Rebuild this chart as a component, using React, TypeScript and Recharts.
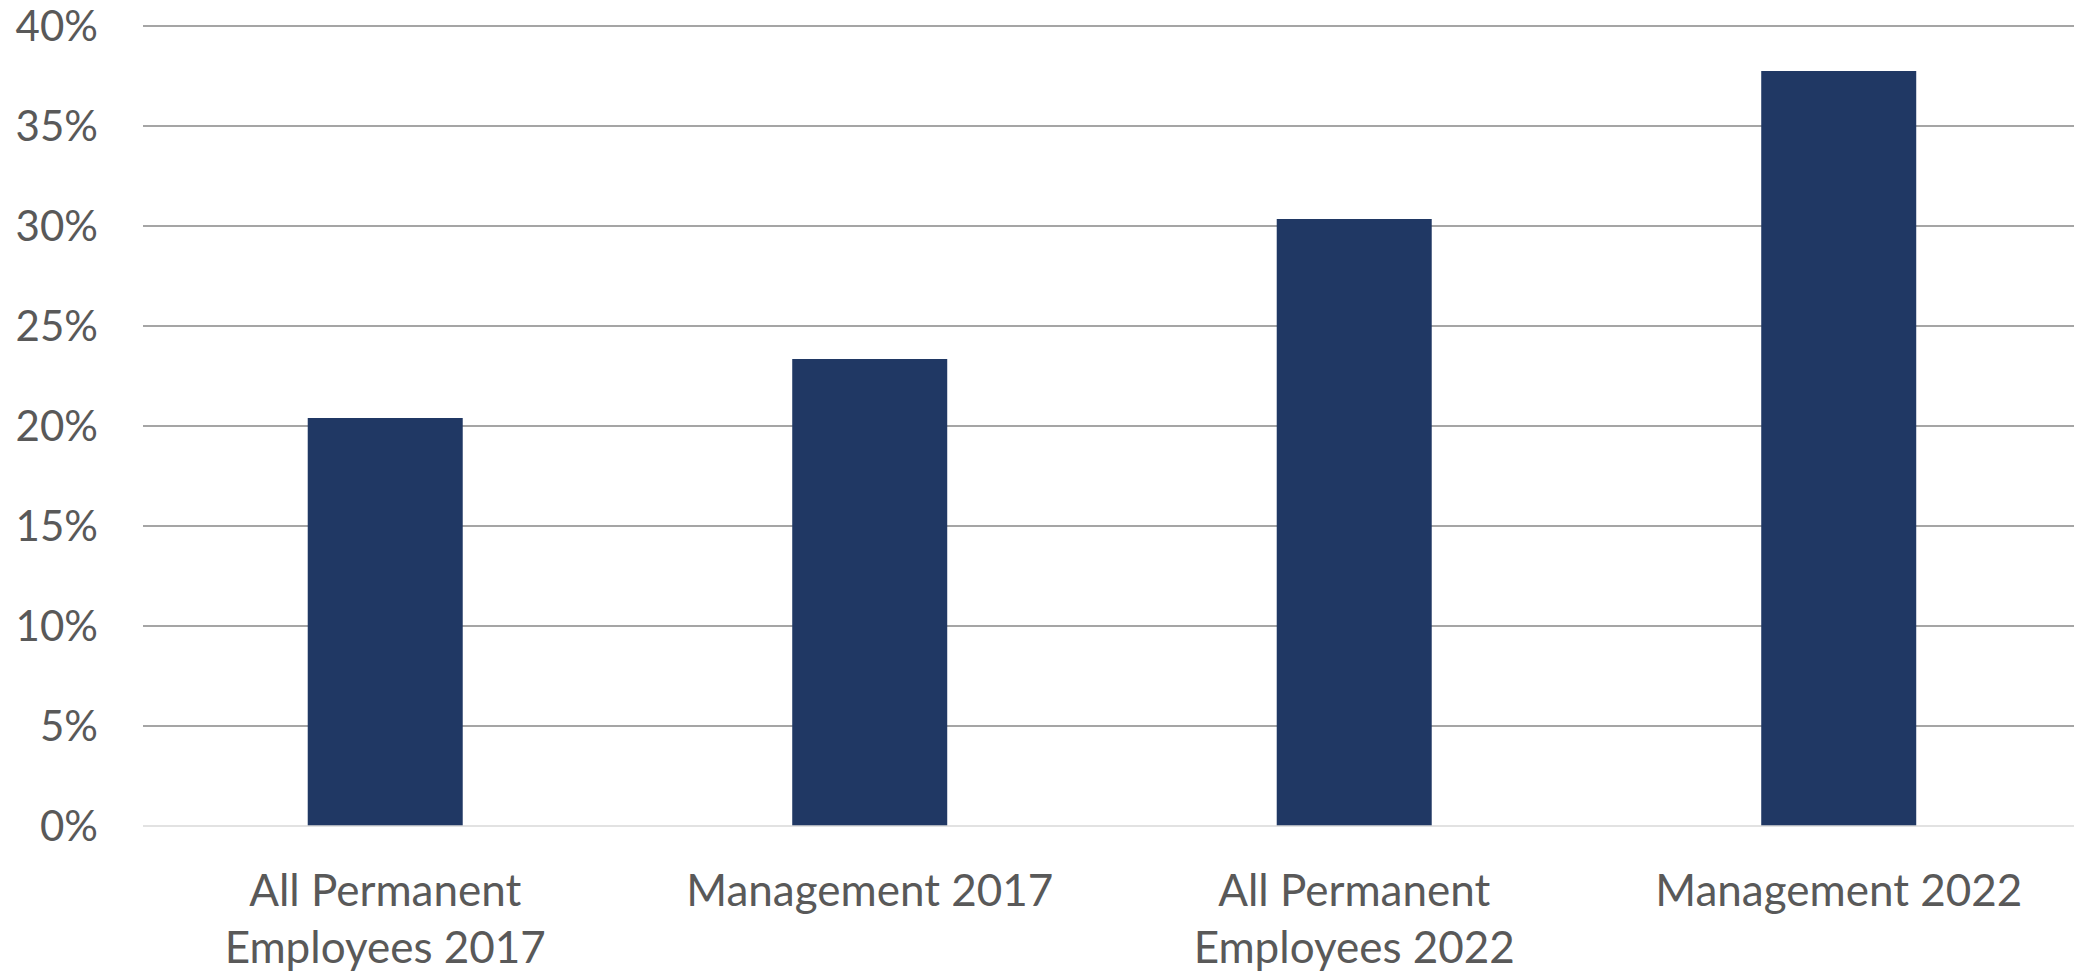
import React from 'react';
import { BarChart, Bar, XAxis, YAxis, CartesianGrid } from 'recharts';

const categories = [
  'All Permanent Employees 2017',
  'Management 2017',
  'All Permanent Employees 2022',
  'Management 2022',
];
const shares = [20.4, 23.35, 30.35, 37.75];
const yTicks = [0, 5, 10, 15, 20, 25, 30, 35, 40];

const data = categories.map((name, i) => ({ name, value: shares[i] }));

const FONT = 'Lato, "Open Sans", sans-serif';
const TEXT = '#595959';

// wrap long category names into lines of at most ~16 chars
const wrap = (s: string, max = 16) => {
  const words = s.split(' ');
  const lines: string[] = [];
  let cur = '';
  words.forEach((w) => {
    const next = cur ? cur + ' ' + w : w;
    if (next.length > max && cur) {
      lines.push(cur);
      cur = w;
    } else {
      cur = next;
    }
  });
  if (cur) lines.push(cur);
  return lines;
};

const CategoryTick = (props: any) => {
  const { x, y, payload } = props;
  const lines = wrap(payload.value);
  return (
    <text x={x} y={y} textAnchor="middle" fill={TEXT} fontFamily={FONT} fontSize={44}>
      {lines.map((l, i) => (
        <tspan key={i} x={x} dy={i === 0 ? 78 : 57}>
          {l}
        </tspan>
      ))}
    </text>
  );
};

export default function App() {
  return (
    <div style={{ position: 'absolute', left: 0, top: 0, background: '#fff', overflow: 'hidden', width: 2074, height: 973 }}>
      <BarChart
        width={2081}
        height={973}
        data={data}
        margin={{ top: 26, right: 0, bottom: 0, left: 0 }}
        barCategoryGap="34%"
      >
        <CartesianGrid
          vertical={false}
          horizontalValues={yTicks.filter((t) => t > 0)}
          stroke="#878787"
          strokeWidth={1.3}
        />
        <XAxis
          dataKey="name"
          height={147}
          tickLine={false}
          tickSize={0}
          axisLine={{ stroke: '#d9d9d9', strokeWidth: 1.3 }}
          interval={0}
          tick={<CategoryTick />}
        />
        <YAxis
          width={143}
          domain={[0, 40]}
          ticks={yTicks}
          tickFormatter={(v) => `${v}%`}
          axisLine={false}
          tickLine={false}
          tickSize={0}
          tickMargin={45}
          tick={{ fill: TEXT, fontFamily: FONT, fontSize: 42 }}
        />
        <Bar dataKey="value" fill="#203864" isAnimationActive={false} />
      </BarChart>
    </div>
  );
}
